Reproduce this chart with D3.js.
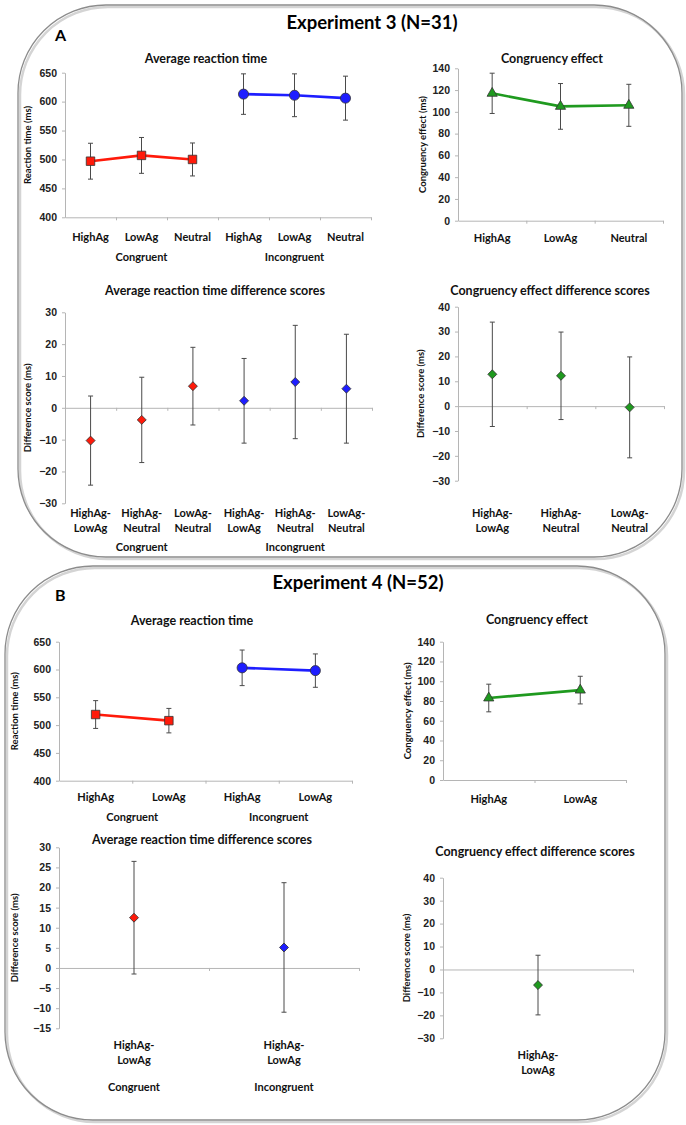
<!DOCTYPE html>
<html>
<head>
<meta charset="utf-8">
<script src="https://cdn.jsdelivr.net/npm/d3@7"></script>
<style>
  body { margin: 0; background: #fff; }
  svg { display: block; font-family: Lato, "Open Sans", sans-serif; }
  .axis path, .axis line { stroke: #b5b5b5; }
  .axis text { font-size: 10.5px; font-weight: 700; fill: #222; }
</style>
</head>
<body>
<svg id="fig" width="686" height="1125"></svg>
<script>
// ---- Experiment 3 ----
const exp3RtCats = ["HighAg", "LowAg", "Neutral", "HighAg", "LowAg", "Neutral"];
const exp3RtCong = [497, 507, 500];
const exp3RtCongErr = [31, 31, 28.5];
const exp3RtIncong = [613, 611, 606];
const exp3RtIncongErr = [35, 37, 38];

const exp3EffCats = ["HighAg", "LowAg", "Neutral"];
const exp3Eff = [117, 105, 106];
const exp3EffErr = [18.5, 21, 19.3];

const exp3DiffCats = ["HighAg-\nLowAg", "HighAg-\nNeutral", "LowAg-\nNeutral", "HighAg-\nLowAg", "HighAg-\nNeutral", "LowAg-\nNeutral"];
const exp3DiffCong = [-10.3, -3.8, 6.8];
const exp3DiffCongErr = [14, 13.4, 12.2];
const exp3DiffIncong = [2.2, 8.1, 6.0];
const exp3DiffIncongErr = [13.3, 17.8, 17.1];

const exp3EffDiffCats = ["HighAg-\nLowAg", "HighAg-\nNeutral", "LowAg-\nNeutral"];
const exp3EffDiff = [12.8, 12.2, -0.5];
const exp3EffDiffErr = [21, 17.6, 20.3];

// ---- Experiment 4 ----
const exp4RtCats = ["HighAg", "LowAg", "HighAg", "LowAg"];
const exp4RtCong = [519, 508];
const exp4RtCongErr = [25, 22];
const exp4RtIncong = [603, 598];
const exp4RtIncongErr = [32, 30];

const exp4EffCats = ["HighAg", "LowAg"];
const exp4Eff = [83, 91];
const exp4EffErr = [14, 14];

const exp4DiffCats = ["HighAg-\nLowAg", "HighAg-\nLowAg"];
const exp4DiffCong = [12.5];
const exp4DiffCongErr = [14];
const exp4DiffIncong = [5.1];
const exp4DiffIncongErr = [16.1];

const exp4EffDiffCats = ["HighAg-\nLowAg"];
const exp4EffDiff = [-6.8];
const exp4EffDiffErr = [13];

// tick values
const rtTicks = d3.range(400, 651, 50);
const effTicks = d3.range(0, 141, 20);
const diff3Ticks = d3.range(-30, 31, 10);
const effDiffTicks = d3.range(-30, 41, 10);
const diff4Ticks = d3.range(-15, 31, 5);

const RED = "#ff1a0a", BLUE = "#1e1eff", GREEN = "#1f9a1f";

const svg = d3.select("#fig");

// rounded panel frame with a soft shadow
function panel(x, y, w, h, r) {
  svg.append("rect")
    .attr("x", x + 2).attr("y", y + 2).attr("width", w).attr("height", h)
    .attr("rx", r).attr("ry", r)
    .attr("fill", "none").attr("stroke", "#d4d4d4").attr("stroke-width", 2.5);
  svg.append("rect")
    .attr("x", x).attr("y", y).attr("width", w).attr("height", h)
    .attr("rx", r).attr("ry", r)
    .attr("fill", "none").attr("stroke", "#8c8c8c").attr("stroke-width", 1.3);
}

function markerPath(shape) {
  if (shape === "square") return d3.symbol(d3.symbolSquare, 72)();
  if (shape === "circle") return d3.symbol(d3.symbolCircle, 80)();
  if (shape === "triangle") return d3.symbol(d3.symbolTriangle, 45)();
  return d3.symbol(d3.symbolSquare, 40)(); // diamond (rotated)
}

function drawChart(o) {
  const g = svg.append("g");
  const n = o.cats.length;
  const y = d3.scaleLinear().domain(o.domain).range([o.bottom, o.top]);
  const x = d3.scaleBand().domain(d3.range(n)).range([o.left, o.right]);
  const xb = d3.scaleLinear().domain([0, n]).range([o.left, o.right]);
  const cx = i => x(i) + x.bandwidth() / 2;

  // title
  g.append("text")
    .attr("x", o.titleX).attr("y", o.titleY)
    .attr("text-anchor", "middle")
    .style("font-size", "12.5px").style("font-weight", 700).style("fill", "#111")
    .text(o.title);

  // y axis
  g.append("g").attr("class", "axis")
    .attr("transform", `translate(${o.left},0)`)
    .call(d3.axisLeft(y).tickValues(o.ticks).tickSize(3).tickSizeOuter(0).tickPadding(5));

  // x axis (at bottom or at zero)
  const xAxisY = o.zero ? y(0) : o.bottom;
  g.append("g").attr("class", "axis")
    .attr("transform", `translate(0,${xAxisY})`)
    .call(d3.axisBottom(xb).tickValues(d3.range(1, n + 1)).tickSize(3).tickSizeOuter(0).tickFormat(""));

  // y title
  g.append("text")
    .attr("transform", `translate(${o.yTitleX},${(o.top + o.bottom) / 2}) rotate(-90)`)
    .attr("text-anchor", "middle")
    .style("font-size", "9.5px").style("font-weight", 700).style("fill", "#111")
    .text(o.yTitle);

  // category labels
  o.cats.forEach((c, i) => {
    const t = g.append("text")
      .attr("text-anchor", "middle")
      .style("font-size", "11px").style("font-weight", 700).style("fill", "#111");
    c.split("\n").forEach((line, k) => {
      t.append("tspan").attr("x", cx(i)).attr("y", o.labelY + k * 15).text(line);
    });
  });

  // group labels
  (o.groups || []).forEach(gr => {
    g.append("text")
      .attr("x", (cx(gr.from) + cx(gr.to)) / 2).attr("y", o.groupY)
      .attr("text-anchor", "middle")
      .style("font-size", "11px").style("font-weight", 700).style("fill", "#111")
      .text(gr.name);
  });

  // series
  o.series.forEach(s => {
    const pts = s.vals.map((v, k) => ({ i: s.start + k, v, e: s.errs[k] }));
    if (s.line && pts.length > 1) {
      g.append("path")
        .datum(pts)
        .attr("fill", "none").attr("stroke", s.color).attr("stroke-width", 2.6)
        .attr("d", d3.line().x(d => cx(d.i)).y(d => y(d.v)));
    }
    const eb = g.selectAll(null).data(pts).enter().append("g").attr("stroke", "#4a4a4a").attr("stroke-width", 1);
    eb.append("line").attr("x1", d => cx(d.i)).attr("x2", d => cx(d.i))
      .attr("y1", d => y(d.v + d.e)).attr("y2", d => y(d.v - d.e));
    eb.append("line").attr("x1", d => cx(d.i) - 2.5).attr("x2", d => cx(d.i) + 2.5)
      .attr("y1", d => y(d.v + d.e)).attr("y2", d => y(d.v + d.e));
    eb.append("line").attr("x1", d => cx(d.i) - 2.5).attr("x2", d => cx(d.i) + 2.5)
      .attr("y1", d => y(d.v - d.e)).attr("y2", d => y(d.v - d.e));

    g.selectAll(null).data(pts).enter().append("path")
      .attr("d", markerPath(s.shape))
      .attr("transform", d => `translate(${cx(d.i)},${y(d.v)})${s.shape === "diamond" ? " rotate(45)" : ""}`)
      .attr("fill", s.color).attr("stroke", "#333").attr("stroke-width", 0.8);
  });
}

// ---------- Panel A ----------
panel(18, 5, 664, 552, 88);
svg.append("text").attr("x", 372).attr("y", 29).attr("text-anchor", "middle")
  .style("font-size", "18.5px").style("font-weight", 700).text("Experiment 3 (N=31)");
svg.append("text").attr("x", 55).attr("y", 41)
  .style("font-size", "16px").style("font-weight", 700).text("A");

drawChart({
  title: "Average reaction time", titleX: 206, titleY: 63,
  left: 65, right: 371, top: 72.7, bottom: 217.3,
  domain: [400, 650], ticks: rtTicks, cats: exp3RtCats,
  labelY: 241, groupY: 261, yTitle: "Reaction time (ms)", yTitleX: 31,
  groups: [{ name: "Congruent", from: 0, to: 2 }, { name: "Incongruent", from: 3, to: 5 }],
  series: [
    { vals: exp3RtCong, errs: exp3RtCongErr, start: 0, color: RED, shape: "square", line: true },
    { vals: exp3RtIncong, errs: exp3RtIncongErr, start: 3, color: BLUE, shape: "circle", line: true }
  ]
});

drawChart({
  title: "Congruency effect", titleX: 552, titleY: 63,
  left: 458, right: 663, top: 68.3, bottom: 220.7,
  domain: [0, 140], ticks: effTicks, cats: exp3EffCats,
  labelY: 242, yTitle: "Congruency effect (ms)", yTitleX: 426,
  series: [
    { vals: exp3Eff, errs: exp3EffErr, start: 0, color: GREEN, shape: "triangle", line: true }
  ]
});

drawChart({
  title: "Average reaction time difference scores", titleX: 215, titleY: 295,
  left: 65, right: 372, top: 312.3, bottom: 503.3, zero: true,
  domain: [-30, 30], ticks: diff3Ticks, cats: exp3DiffCats,
  labelY: 517, groupY: 551, yTitle: "Difference score (ms)", yTitleX: 31,
  groups: [{ name: "Congruent", from: 0, to: 2 }, { name: "Incongruent", from: 3, to: 5 }],
  series: [
    { vals: exp3DiffCong, errs: exp3DiffCongErr, start: 0, color: RED, shape: "diamond" },
    { vals: exp3DiffIncong, errs: exp3DiffIncongErr, start: 3, color: BLUE, shape: "diamond" }
  ]
});

drawChart({
  title: "Congruency effect difference scores", titleX: 550, titleY: 295,
  left: 458, right: 664, top: 306.7, bottom: 480.7, zero: true,
  domain: [-30, 40], ticks: effDiffTicks, cats: exp3EffDiffCats,
  labelY: 517, yTitle: "Difference score (ms)", yTitleX: 424,
  series: [
    { vals: exp3EffDiff, errs: exp3EffDiffErr, start: 0, color: GREEN, shape: "diamond" }
  ]
});

// ---------- Panel B ----------
panel(5, 566, 660, 554, 88);
svg.append("text").attr("x", 358).attr("y", 589).attr("text-anchor", "middle")
  .style("font-size", "18.5px").style("font-weight", 700).text("Experiment 4 (N=52)");
svg.append("text").attr("x", 55).attr("y", 601)
  .style("font-size", "16px").style("font-weight", 700).text("B");

drawChart({
  title: "Average reaction time", titleX: 192, titleY: 625,
  left: 59, right: 352, top: 641.7, bottom: 780.7,
  domain: [400, 650], ticks: rtTicks, cats: exp4RtCats,
  labelY: 801, groupY: 821, yTitle: "Reaction time (ms)", yTitleX: 18,
  groups: [{ name: "Congruent", from: 0, to: 1 }, { name: "Incongruent", from: 2, to: 3 }],
  series: [
    { vals: exp4RtCong, errs: exp4RtCongErr, start: 0, color: RED, shape: "square", line: true },
    { vals: exp4RtIncong, errs: exp4RtIncongErr, start: 2, color: BLUE, shape: "circle", line: true }
  ]
});

drawChart({
  title: "Congruency effect", titleX: 537, titleY: 624,
  left: 443, right: 626, top: 641.7, bottom: 780,
  domain: [0, 140], ticks: effTicks, cats: exp4EffCats,
  labelY: 803, yTitle: "Congruency effect (ms)", yTitleX: 411,
  series: [
    { vals: exp4Eff, errs: exp4EffErr, start: 0, color: GREEN, shape: "triangle", line: true }
  ]
});

drawChart({
  title: "Average reaction time difference scores", titleX: 202, titleY: 844,
  left: 59, right: 359, top: 847.3, bottom: 1028.3, zero: true,
  domain: [-15, 30], ticks: diff4Ticks, cats: exp4DiffCats,
  labelY: 1049, groupY: 1091, yTitle: "Difference score (ms)", yTitleX: 18,
  groups: [{ name: "Congruent", from: 0, to: 0 }, { name: "Incongruent", from: 1, to: 1 }],
  series: [
    { vals: exp4DiffCong, errs: exp4DiffCongErr, start: 0, color: RED, shape: "diamond" },
    { vals: exp4DiffIncong, errs: exp4DiffIncongErr, start: 1, color: BLUE, shape: "diamond" }
  ]
});

drawChart({
  title: "Congruency effect difference scores", titleX: 535, titleY: 856,
  left: 443, right: 633, top: 877.7, bottom: 1038.3, zero: true,
  domain: [-30, 40], ticks: effDiffTicks, cats: exp4EffDiffCats,
  labelY: 1059, yTitle: "Difference score (ms)", yTitleX: 410,
  series: [
    { vals: exp4EffDiff, errs: exp4EffDiffErr, start: 0, color: GREEN, shape: "diamond" }
  ]
});
</script>
</body>
</html>
